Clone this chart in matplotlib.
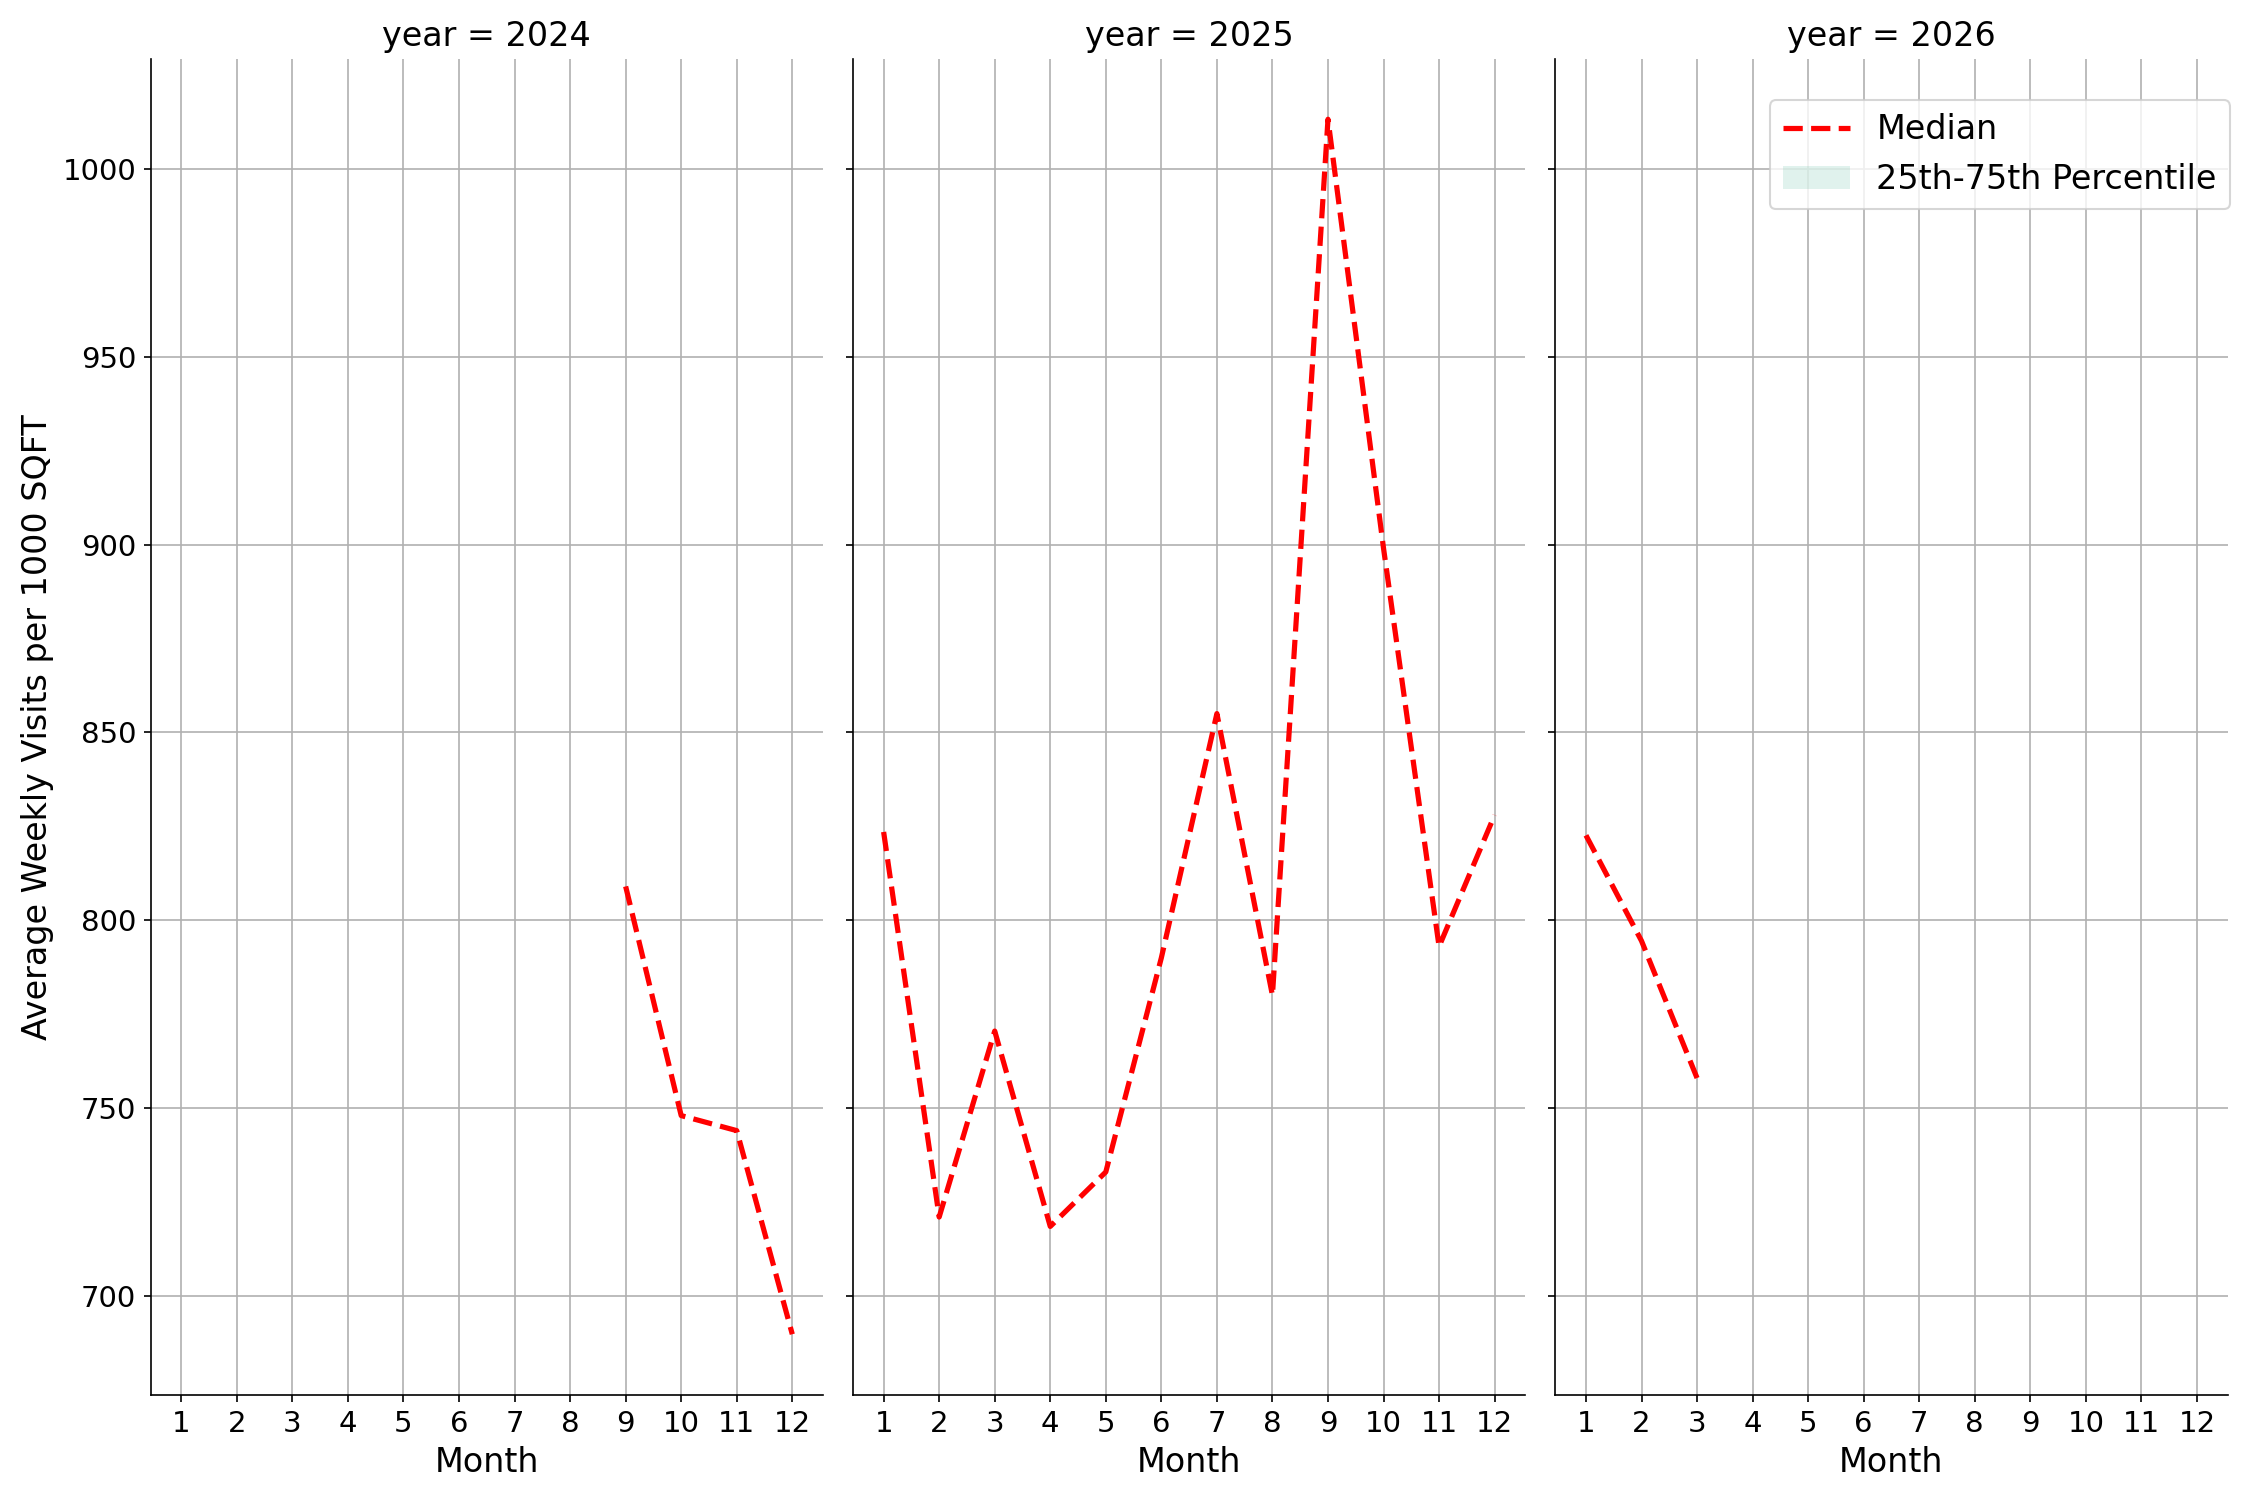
import matplotlib.pyplot as plt
from matplotlib.patches import Patch
from matplotlib.lines import Line2D
import numpy as np

years = [2024, 2025, 2026]
months_2024 = [9, 10, 11, 12]
median_2024 = [809, 748, 744, 689.8]
months_2025 = [1, 2, 3, 4, 5, 6, 7, 8, 9, 10, 11, 12]
median_2025 = [823.5, 721, 770.5, 718.5, 733, 790, 855, 780, 1013.2, 899, 793, 828]
months_2026 = [1, 2, 3]
median_2026 = [822.6, 794.5, 758]

month_data = {2024: months_2024, 2025: months_2025, 2026: months_2026}
median_data = {2024: median_2024, 2025: median_2025, 2026: median_2026}

fig, axes = plt.subplots(1, 3, figsize=(15, 10), dpi=150, sharex=True, sharey=True)
fig.subplots_adjust(left=0.067, right=0.99, top=0.961, bottom=0.07, wspace=0.045)

for ax, yr in zip(axes, years):
    m = month_data[yr]
    med = np.array(median_data[yr])
    ax.plot(m, med, color='red', linestyle='--', linewidth=2.5, label='Median')
    # percentile band (collapsed to the median, nothing visible)
    ax.fill_between(m, med, med, color='#66c2a5', alpha=0.2, linewidth=0)
    ax.set_title(f'year = {yr}', fontsize=16)
    ax.set_xlabel('Month', fontsize=16)
    ax.set_xticks(range(1, 13))
    ax.grid(True, color='#b0b0b0')
    ax.tick_params(labelsize=14)
    ax.spines['top'].set_visible(False)
    ax.spines['right'].set_visible(False)

axes[0].set_ylabel('Average Weekly Visits per 1000 SQFT', fontsize=16)

handles = [Line2D([0], [0], color='red', linestyle='--', linewidth=2.5),
           Patch(facecolor='#66c2a5', alpha=0.2, edgecolor='none')]
axes[2].legend(handles, ['Median', '25th-75th Percentile'], loc='upper right',
               bbox_to_anchor=(1.004, 0.969), borderaxespad=0, fontsize=16)

plt.savefig('out.png')
